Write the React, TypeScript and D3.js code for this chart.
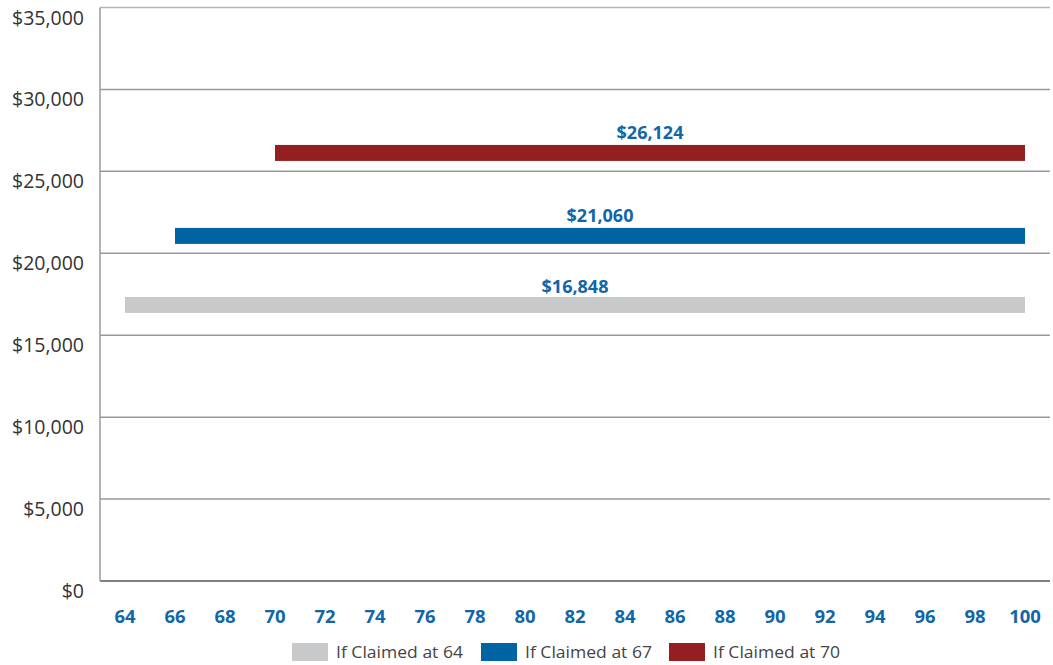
import React from "react";
import * as d3 from "d3";

const series = ["If Claimed at 64", "If Claimed at 67", "If Claimed at 70"];
const startAges = [64, 66, 70];
const endAges = [100, 100, 100];
const benefits = [16848, 21060, 26124];
const colors = ["#c8c9cb", "#0064a4", "#941f21"];
const yTicks = [0, 5000, 10000, 15000, 20000, 25000, 30000, 35000];
const xTicks = [64, 66, 68, 70, 72, 74, 76, 78, 80, 82, 84, 86, 88, 90, 92, 94, 96, 98, 100];

const W = 1053;
const H = 665;
const m = { left: 100, right: 1050, top: 7.5, bottom: 581 };
const font = "'Open Sans', sans-serif";
const labelBlue = "#1266a8";

export default function App() {
  const x = d3.scaleLinear().domain([63, 101]).range([m.left, m.right]);
  const y = d3.scaleLinear().domain([0, 35000]).range([m.bottom, m.top]);
  const barH = 16;
  const fmt = (v: number) => "$" + d3.format(",")(v);

  const legendX = [292, 481, 669];

  return (
    <svg
      width={W}
      height={H}
      style={{ position: "absolute", left: 0, top: 0, background: "#fff" }}
    >
      {yTicks.map((t) => (
        <g key={t}>
          <line
            x1={m.left}
            x2={m.right}
            y1={y(t)}
            y2={y(t)}
            stroke={t === 0 ? "#808080" : t === 35000 ? "#b3b3b3" : "#999"}
            strokeWidth={t === 0 ? 2 : 1.5}
          />
          <text
            x={84}
            y={y(t) + 17}
            textAnchor="end"
            fontFamily={font}
            fontSize={19.5}
            fill="#333"
          >
            {fmt(t)}
          </text>
        </g>
      ))}
      <line x1={m.left} x2={m.left} y1={m.top} y2={m.bottom} stroke="#999" strokeWidth={1.5} />
      {xTicks.map((t) => (
        <text
          key={t}
          x={x(t)}
          y={623}
          textAnchor="middle"
          fontFamily={font}
          fontWeight={700}
          fontSize={18.5}
          fill={labelBlue}
        >
          {t}
        </text>
      ))}
      {series.map((s, i) => (
        <g key={s}>
          <rect
            x={x(startAges[i])}
            y={y(benefits[i]) - barH / 2}
            width={x(endAges[i]) - x(startAges[i])}
            height={barH}
            fill={colors[i]}
          />
          <text
            x={(x(startAges[i]) + x(endAges[i])) / 2}
            y={y(benefits[i]) - barH / 2 - (i === 0 ? 3.5 : 5.5)}
            textAnchor="middle"
            fontFamily={font}
            fontWeight={700}
            fontSize={18}
            fill={labelBlue}
          >
            {fmt(benefits[i])}
          </text>
        </g>
      ))}
      {series.map((s, i) => (
        <g key={"l" + s}>
          <rect x={legendX[i]} y={643} width={36} height={18} fill={colors[i]} />
          <text
            x={legendX[i] + 44}
            y={658}
            fontFamily={font}
            fontSize={17}
            fill="#444"
            textLength={127}
            lengthAdjust="spacingAndGlyphs"
          >
            {s}
          </text>
        </g>
      ))}
    </svg>
  );
}
